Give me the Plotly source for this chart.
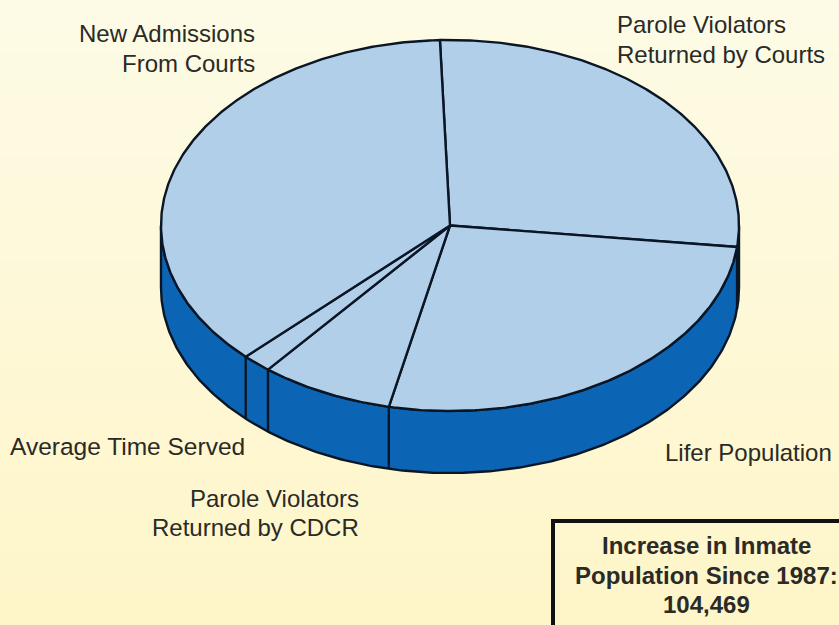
import numpy as np
import plotly.graph_objects as go

# Slices, clockwise starting just left of twelve o'clock
categories = ["Parole Violators Returned by Courts", "Lifer Population",
              "Parole Violators Returned by CDCR", "Average Time Served",
              "New Admissions From Courts"]
shares = [27.4, 26.55, 7.45, 1.65, 36.95]
note_lines = ["Increase in Inmate", "Population Since 1987:", "104,469"]

W, H = 839, 625
CX, CY, RX, RY, DEPTH = 450, 225.5, 289, 185.5, 62
START = -2.0
TOP = "#B2CFE9"
SIDE = "#0B64B4"
EDGE = "#0A1626"
FONT = "Liberation Sans, Arial, sans-serif"
TXT = "#2A2A26"
LINE_W = 2.4


def pt(deg, dy=0.0):
    a = np.radians(deg)
    return CX + RX * np.sin(a), CY - RY * np.cos(a) + dy


fig = go.Figure()

# page gradient
grad_y = np.linspace(0, H, 40)
fig.add_trace(go.Heatmap(x=[0, W], y=grad_y, z=[[v, v] for v in grad_y], zsmooth="best",
                         colorscale=[[0, "#FDFBE6"], [1, "#FEF5C8"]], showscale=False,
                         hoverinfo="skip"))

# rim
arc = np.linspace(90, 270, 240)
x1, y1 = pt(arc)
x2, y2 = pt(arc[::-1], DEPTH)
fig.add_trace(go.Scatter(x=np.r_[x1, x2, x1[0]], y=np.r_[y1, y2, y1[0]], mode="lines",
                         fill="toself", fillcolor=SIDE, line=dict(color=EDGE, width=LINE_W),
                         hoverinfo="skip", showlegend=False))

# top wedges and rim dividers
angles = START + np.cumsum([0] + shares) * 3.6
for name, a0, a1 in zip(categories, angles[:-1], angles[1:]):
    t = np.linspace(a0, a1, max(int(a1 - a0) * 2, 6))
    xs, ys = pt(t)
    fig.add_trace(go.Scatter(x=np.r_[CX, xs, CX], y=np.r_[CY, ys, CY], mode="lines",
                             fill="toself", fillcolor=TOP, line=dict(color=EDGE, width=LINE_W),
                             name=name, showlegend=False, hoverinfo="name"))
for a in angles[:-1]:
    if 90 < a % 360 < 270:
        x0, y0 = pt(a)
        xb, yb = pt(a, DEPTH)
        fig.add_trace(go.Scatter(x=[x0, xb], y=[y0, yb], mode="lines",
                                 line=dict(color=EDGE, width=LINE_W),
                                 hoverinfo="skip", showlegend=False))


def label(x, y, text, anchor="center", bold=False, size=24):
    fig.add_annotation(x=x, y=y, text=f"<b>{text}</b>" if bold else text, showarrow=False,
                       xanchor=anchor, yanchor="middle",
                       font=dict(family=FONT, size=size, color=TXT))


def words(s, a, b=None):
    return " ".join(s.split(" ")[a:b])


label(257, 33, words(categories[4], 0, 2), "right")
label(257, 63, words(categories[4], 2), "right")
label(615, 24, words(categories[0], 0, 2), "left")
label(615, 54, words(categories[0], 2), "left")
label(663, 452, categories[1], "left")
label(8, 446, categories[3], "left", size=24.5)
label(361, 498, words(categories[2], 0, 2), "right")
label(361, 527, words(categories[2], 2), "right")

# note box
fig.add_shape(type="rect", x0=553, y0=521, x1=W + 4, y1=H + 4,
              line=dict(color="#111111", width=4), fillcolor="rgba(0,0,0,0)")
for s, y in zip(note_lines, [545, 575, 604]):
    label(706, y, s, "center", bold=True)

fig.update_layout(width=W, height=H, autosize=False, margin=dict(l=0, r=0, t=0, b=0),
                  paper_bgcolor="#FEF9D8", plot_bgcolor="#FEF9D8", showlegend=False,
                  xaxis=dict(range=[0, W], visible=False, fixedrange=True),
                  yaxis=dict(range=[H, 0], visible=False, fixedrange=True))
fig.write_html("out.html", config={"displayModeBar": False},
               default_width=W, default_height=H,
               post_script="document.body.style.margin='0';")
